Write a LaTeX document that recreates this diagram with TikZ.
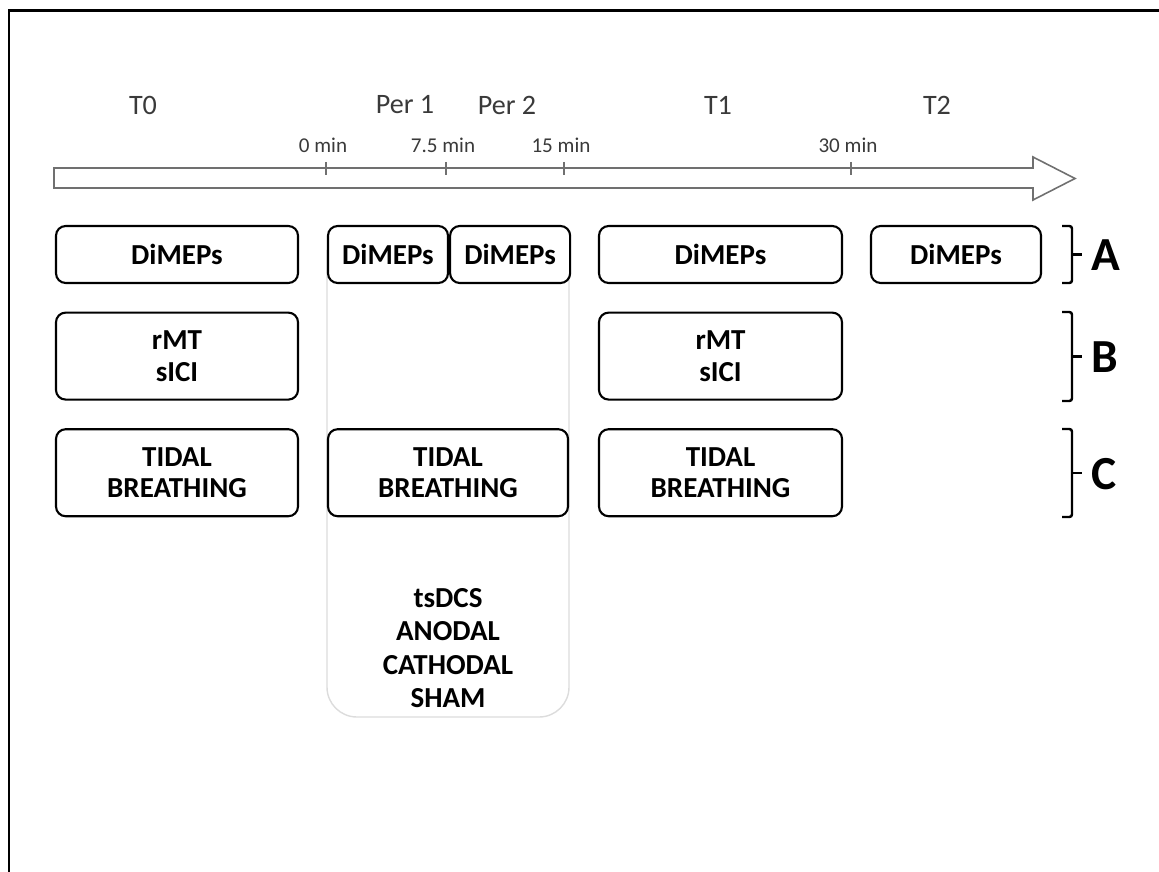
\documentclass[tikz,border=0pt]{standalone}
\usepackage{fontspec}
\setmainfont{Carlito}
\usetikzlibrary{positioning}
\definecolor{txt}{HTML}{3A3A3A}
\definecolor{axis}{HTML}{707070}
\definecolor{pale}{HTML}{DCDCDC}
\tikzset{bx/.style={draw,fill=white,rounded corners=5.5pt,line width=1.2pt,minimum width=#1*0.2mm,align=center,inner sep=0pt,font=\bfseries\fontsize{16.5}{18}\selectfont},
rowa/.style={minimum height=11.4mm},rowbc/.style={minimum height=17.4mm},
ph/.style={text=txt,font=\fontsize{16}{18}\selectfont},tk/.style={text=txt,font=\fontsize{12}{14}\selectfont},
grp/.style={font=\bfseries\fontsize{27}{30}\selectfont},brk/.style={line width=1.4pt,rounded corners=1.5pt}}

\begin{document}
\begin{tikzpicture}[x=0.2mm,y=-0.2mm]
\useasboundingbox(0,0)rectangle(1159,872);
\draw[line width=1.7pt](9,872)--(9,11)--(1159,11);
% time axis
\draw[axis,line width=0.9pt,fill=white](54,168)--(1033,168)--(1033,157)--(1075,178.5)--(1033,200)--(1033,188)--(54,188)--cycle;
\foreach \x/\t [count=\i] in {326/0,446/7.5,564/15,851/30}{\draw[axis,line width=0.9pt](\x,162)--(\x,175);\node[tk](tick\i)at(\x-3,145){\t\ min};}
\node[ph](T0)at(143,105){T0};\node[ph](P1)at(405,105){Per 1};\node[ph](P2)at(507,105){Per 2};\node[ph](T1)at(718,105){T1};\node[ph](T2)at(937,105){T2};
% stimulation period
\draw[pale,line width=0.8pt,rounded corners=17pt](327,250)--(327,717)--(569,717)--(569,250);
\node[inner sep=0pt,align=center,font=\bfseries\fontsize{16.5}{19}\selectfont](stim)at(448,648){tsDCS\\ANODAL\\CATHODAL\\SHAM};
% row A
\node[bx=242,rowa](dT0)at(177,254.5){DiMEPs};
\node[bx=120,rowa](dP1)at(388,254.5){DiMEPs};\node[bx=120,rowa,right=0pt of dP1](dP2){DiMEPs};
\node[bx=243,rowa](dT1)at(720.5,254.5){DiMEPs};\node[bx=170,rowa](dT2)at(956,254.5){DiMEPs};
% rows B and C
\node[bx=242,rowbc,below=5.5mm of dT0](mT0){rMT\\sICI};\node[bx=243,rowbc,below=5.5mm of dT1](mT1){rMT\\sICI};
\node[bx=242,rowbc,below=5.5mm of mT0](bT0){TIDAL\\BREATHING};\node[bx=243,rowbc,below=5.5mm of mT1](bT1){TIDAL\\BREATHING};
\node[bx=240,rowbc](bP)at(bT0 -| stim){TIDAL\\BREATHING};
% brackets
\foreach \a/\b/\l in {226/283/A,312/401/B,429/517/C}{\draw[brk](1062,\a)--(1072,\a)--(1072,\b)--(1062,\b);\draw[brk](1072,{(\a+\b)/2})--(1082,{(\a+\b)/2});\node[grp,anchor=west](g\l)at(1085,{(\a+\b)/2+1}){\l};}
\end{tikzpicture}
\end{document}
